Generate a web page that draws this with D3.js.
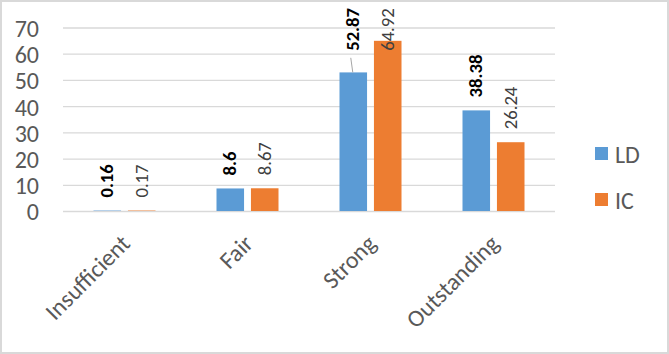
<html>
<head>
    <script src="https://d3js.org/d3.v7.min.js"></script>
    <style>
        body { margin: 0; background: #fff; }
        text { font-family: Calibri, Carlito, Lato, sans-serif; }
    </style>
</head>

<body>
    <svg id="chart"></svg>

    <script>
        var W = 669, H = 354;
        var categories = ["Insufficient", "Fair", "Strong", "Outstanding"];
        var seriesNames = ["LD", "IC"];
        var LD = [0.16, 8.6, 52.87, 38.38];
        var IC = [0.17, 8.67, 64.92, 26.24];
        var yTicks = [0, 10, 20, 30, 40, 50, 60, 70];
        var colors = ["#5b9bd5", "#ed7d31"];

        var plotLeft = 63, plotRight = 555, plotTop = 27.5, plotBottom = 211;

        var svg = d3.select("#chart").attr("width", W).attr("height", H);
        svg.append("rect")
            .attr("x", 1).attr("y", 1).attr("width", W - 2).attr("height", H - 2)
            .attr("fill", "#fff").attr("stroke", "#d9d9d9").attr("stroke-width", 2);

        var y = d3.scaleLinear().domain([0, 70]).range([plotBottom, plotTop]);
        var x0 = d3.scaleBand().domain(categories).range([plotLeft, plotRight]);
        var groupW = 62;
        var pad = (x0.bandwidth() - groupW) / 2;
        var x1 = d3.scaleBand().domain(seriesNames).range([pad, pad + groupW]).paddingInner(0.2);

        // gridlines + y labels
        var yAxis = d3.axisLeft(y).tickValues(yTicks).tickSize(-(plotRight - plotLeft)).tickPadding(24);
        var ga = svg.append("g").attr("transform", "translate(" + plotLeft + ",0)").call(yAxis);
        ga.select(".domain").remove();
        ga.selectAll(".tick line").attr("stroke", "#d9d9d9").attr("stroke-width", 1.3);
        ga.selectAll(".tick text").attr("fill", "#595959").style("font-size", "24px")
            .attr("dy", "0.37em").attr("font-family", null);

        var rows = categories.map(function(c, i) {
            return { cat: c, vals: [LD[i], IC[i]] };
        });

        var groups = svg.selectAll(".grp").data(rows).enter().append("g")
            .attr("transform", function(d) { return "translate(" + x0(d.cat) + ",0)"; });

        groups.selectAll("rect").data(function(d) {
            return d.vals.map(function(v, j) { return { s: seriesNames[j], v: v, j: j }; });
        }).enter().append("rect")
            .attr("x", function(d) { return x1(d.s); })
            .attr("y", function(d) { return y(d.v); })
            .attr("width", x1.bandwidth())
            .attr("height", function(d) { return plotBottom - y(d.v); })
            .attr("fill", function(d) { return colors[d.j]; });

        // data labels, rotated; a group whose label would run off the top lines up at the top
        var gap = 13, minTop = 8;
        groups.each(function(d) {
            var g = d3.select(this);
            var labs = d.vals.map(function(v, j) {
                var t = g.append("text")
                    .text(v)
                    .style("font-size", "18.67px")
                    .attr("font-weight", j === 0 ? "bold" : "normal")
                    .attr("fill", j === 0 ? "#000" : "#404040")
                    .attr("text-anchor", "start")
                    .attr("dy", "0.34em");
                return { t: t, v: v, j: j, len: t.node().getComputedTextLength() };
            });
            var maxLen = d3.max(labs, function(l) { return l.len; });
            var clamp = labs.some(function(l) { return y(l.v) - gap - l.len < minTop; });
            labs.forEach(function(l) {
                var cx = x1(seriesNames[l.j]) + x1.bandwidth() / 2;
                var base = clamp ? minTop + maxLen : y(l.v) - gap;
                l.t.attr("transform", "translate(" + (cx - 0.5) + "," + base + ") rotate(-90)");
                if (clamp && y(l.v) - base > gap + 8) {
                    g.append("line")
                        .attr("x1", cx - 2.5).attr("y1", base + 7)
                        .attr("x2", cx - 0.5).attr("y2", y(l.v))
                        .attr("stroke", "#a6a6a6").attr("stroke-width", 1);
                }
            });
        });

        // category labels
        svg.selectAll(".cat").data(categories).enter().append("text")
            .attr("transform", function(c) {
                return "translate(" + (x0(c) + x0.bandwidth() / 2 + 7) + ",245) rotate(-45)";
            })
            .attr("text-anchor", "end")
            .attr("fill", "#595959")
            .style("font-size", "24px")
            .text(function(c) { return c; });

        // legend
        var leg = svg.selectAll(".leg").data(seriesNames).enter().append("g")
            .attr("transform", function(d, i) { return "translate(595," + (147 + i * 46) + ")"; });
        leg.append("rect").attr("width", 13).attr("height", 13)
            .attr("fill", function(d, i) { return colors[i]; });
        leg.append("text").attr("x", 20).attr("y", 16)
            .attr("fill", "#595959").style("font-size", "24px")
            .text(function(d) { return d; });
    </script>
</body>
</html>
